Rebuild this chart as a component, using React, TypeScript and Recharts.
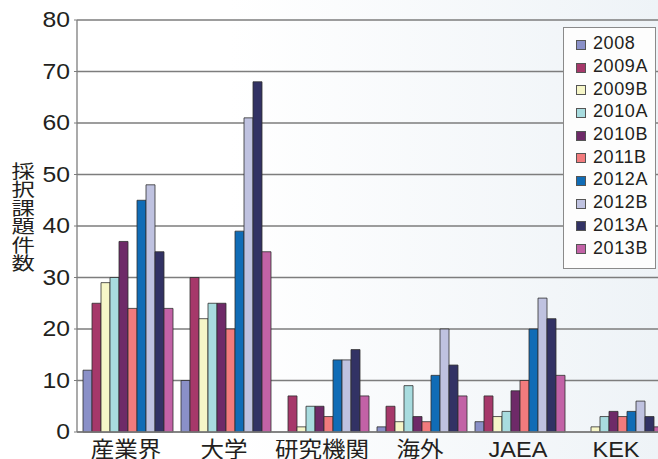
import { Bar, BarChart, CartesianGrid, Label, Legend, XAxis, YAxis } from "recharts";

// Accepted proposals per institution type, one array per call period
const categories = ["産業界", "大学", "研究機関", "海外", "JAEA", "KEK"];
const periods = ["2008", "2009A", "2009B", "2010A", "2010B", "2011B", "2012A", "2012B", "2013A", "2013B"];

const count2008 = [12, 10, 0, 1, 2, 0];
const count2009A = [25, 30, 7, 5, 7, 0];
const count2009B = [29, 22, 1, 2, 3, 1];
const count2010A = [30, 25, 5, 9, 4, 3];
const count2010B = [37, 25, 5, 3, 8, 4];
const count2011B = [24, 20, 3, 2, 10, 3];
const count2012A = [45, 39, 14, 11, 20, 4];
const count2012B = [48, 61, 14, 20, 26, 6];
const count2013A = [35, 68, 16, 13, 22, 3];
const count2013B = [24, 35, 7, 7, 11, 1];

const yTicks = [0, 10, 20, 30, 40, 50, 60, 70, 80];
const yTitle = "採択課題件数";

const periodColors = [
  "#8a90c8",
  "#a6386a",
  "#f6f6c8",
  "#a8dcdf",
  "#6e2a68",
  "#f27b7d",
  "#106cb6",
  "#bfc2e0",
  "#323264",
  "#c262a6",
];

const seriesValues = [
  count2008,
  count2009A,
  count2009B,
  count2010A,
  count2010B,
  count2011B,
  count2012A,
  count2012B,
  count2013A,
  count2013B,
];

const rows = categories.map((name, i) => {
  const row: Record<string, string | number> = { name };
  periods.forEach((p, s) => {
    row[p] = seriesValues[s][i];
  });
  return row;
});

const textColor = "#231f20";
const gridColor = "#7d7d7d";

// labels in this figure are set slightly wide, so the text is stretched horizontally
const CategoryTick = ({ x, y, payload }: any) => (
  <text
    transform={`translate(${x},${y + 23}) scale(1.07,1)`}
    textAnchor="middle"
    fontSize={22}
    fill={textColor}
  >
    {payload.value}
  </text>
);

const ValueTick = ({ x, y, payload }: any) => (
  <text
    transform={`translate(${x},${y}) scale(1.15,1)`}
    textAnchor="end"
    dominantBaseline="central"
    fontSize={21.5}
    fill={textColor}
  >
    {payload.value}
  </text>
);

// stacked axis title, set as one vertical run of text
const VerticalTitle = () => (
  <g transform="translate(21.5,162) scale(1.3,1)">
    <text
      x={0}
      y={0}
      fontSize={18}
      fill={textColor}
      letterSpacing={0.5}
      style={{ writingMode: "vertical-rl" }}
    >
      {yTitle}
    </text>
  </g>
);

const PeriodLegend = () => (
  <div
    style={{
      width: 93,
      height: 242,
      boxSizing: "border-box",
      border: "1px solid #8a8a8a",
      background: "#fdfdfd",
      padding: "4px 0 0 12px",
    }}
  >
    {periods.map((p, i) => (
      <div key={p} style={{ display: "flex", alignItems: "center", height: 22.7 }}>
        <span
          style={{
            width: 10,
            height: 10,
            background: periodColors[i],
            border: "1px solid #555",
            boxSizing: "border-box",
            marginRight: 7,
            marginTop: 3,
          }}
        />
        <span style={{ fontSize: 18, color: textColor, lineHeight: 1, letterSpacing: 0.6 }}>{p}</span>
      </div>
    ))}
  </div>
);

export default function App() {
  return (
    <div
      style={{
        position: "fixed",
        left: 0,
        top: 0,
        width: 658,
        height: 459,
        overflow: "hidden",
        background: "linear-gradient(to right, #ffffff 35%, #eef3f7 100%)",
        fontFamily: "'Liberation Sans', Arial, 'Noto Sans CJK JP', sans-serif",
      }}
    >
      <BarChart
        width={665}
        height={459}
        data={rows}
        margin={{ top: 20, right: 0, left: 0, bottom: 0 }}
        barCategoryGap={6}
        barGap={0}
      >
        <CartesianGrid vertical={false} stroke={gridColor} strokeWidth={1.3} />
        <XAxis
          dataKey="name"
          height={27}
          tickLine={false}
          tickSize={0}
          axisLine={{ stroke: gridColor, strokeWidth: 1.3 }}
          tick={<CategoryTick />}
          interval={0}
        />
        <YAxis
          width={77}
          domain={[0, 80]}
          ticks={yTicks}
          interval={0}
          tickSize={3}
          tickMargin={4}
          tickLine={{ stroke: gridColor }}
          axisLine={{ stroke: gridColor, strokeWidth: 1.3 }}
          tick={<ValueTick />}
        >
          <Label content={<VerticalTitle />} />
        </YAxis>
        <Legend
          layout="vertical"
          align="center"
          verticalAlign="middle"
          content={<PeriodLegend />}
          wrapperStyle={{ position: "absolute", left: 563, top: 27, width: 93, height: 242 }}
        />
        {periods.map((p, i) => (
          <Bar
            key={p}
            dataKey={p}
            fill={periodColors[i]}
            stroke="#2e2e2e"
            strokeWidth={0.8}
            isAnimationActive={false}
          />
        ))}
      </BarChart>
    </div>
  );
}
